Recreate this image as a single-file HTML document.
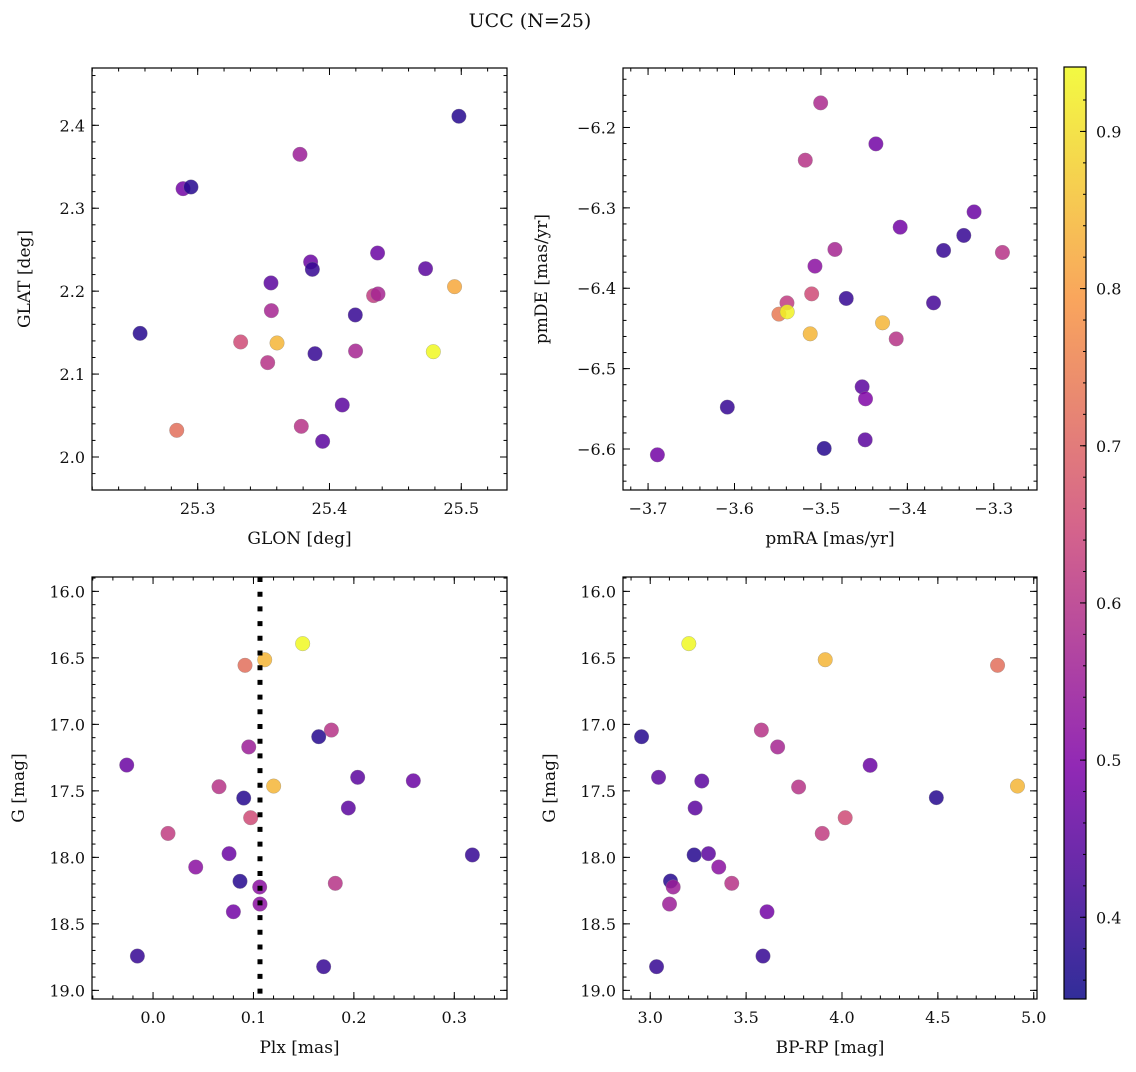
<!DOCTYPE html>
<html><head><meta charset="utf-8"><style>
body{margin:0;background:#fff;}
svg text{font-family:"DejaVu Serif","Liberation Serif",serif;fill:#111;}
</style></head><body>
<svg id="fig" width="1136" height="1067" xmlns="http://www.w3.org/2000/svg">
<text x="530" y="27" font-size="19" text-anchor="middle">UCC (N=25)</text>
</svg>
<script>
// ---- data ----
const glon = [25.4982,25.3776,25.2889,25.2949,25.4365,25.3857,25.3870,25.4729,25.3556,25.4949,25.4335,25.4368,25.3559,25.4196,25.2563,25.3326,25.3602,25.3890,25.4198,25.4788,25.3531,25.4097,25.3786,25.3948,25.2841];
const glat = [2.4109,2.3650,2.3236,2.3256,2.2460,2.2352,2.2263,2.2271,2.2099,2.2054,2.1946,2.1966,2.1765,2.1713,2.1491,2.1387,2.1375,2.1246,2.1278,2.1270,2.1138,2.0627,2.0370,2.0189,2.0322];
const cTL  = [0.38,0.55,0.48,0.38,0.47,0.47,0.40,0.45,0.45,0.82,0.62,0.57,0.57,0.40,0.38,0.65,0.84,0.40,0.57,0.94,0.60,0.45,0.60,0.45,0.72];
const pmra = [-3.5003,-3.4364,-3.5181,-3.3228,-3.4083,-3.3347,-3.3581,-3.2900,-3.4838,-3.5069,-3.5107,-3.4707,-3.5393,-3.5486,-3.5390,-3.4287,-3.3697,-3.5124,-3.4129,-3.4523,-3.4484,-3.4488,-3.4962,-3.6083,-3.6892];
const pmde = [-6.1694,-6.2204,-6.2407,-6.3050,-6.3240,-6.3343,-6.3530,-6.3555,-6.3517,-6.3725,-6.4070,-6.4127,-6.4182,-6.4322,-6.4294,-6.4430,-6.4182,-6.4567,-6.4630,-6.5226,-6.5376,-6.5886,-6.5993,-6.5479,-6.6072];
const cTR  = [0.58,0.48,0.60,0.47,0.48,0.40,0.40,0.60,0.57,0.52,0.65,0.40,0.62,0.74,0.93,0.84,0.42,0.84,0.60,0.45,0.50,0.45,0.38,0.40,0.48];
const plx  = [0.1490,0.1112,0.0916,0.1776,0.1650,0.0953,-0.0262,0.2038,0.2592,0.0657,0.1201,0.0903,0.1945,0.0972,0.0149,0.0757,0.3180,0.0425,0.0866,0.1062,0.1815,0.1065,0.0800,-0.0156,0.1699];
const gBL  = [16.393,16.514,16.556,17.043,17.093,17.170,17.306,17.398,17.424,17.469,17.464,17.554,17.629,17.702,17.820,17.972,17.982,18.073,18.180,18.223,18.195,18.351,18.409,18.742,18.822];
const cBL  = [0.94,0.84,0.72,0.60,0.38,0.55,0.47,0.45,0.47,0.60,0.84,0.38,0.45,0.65,0.62,0.47,0.40,0.52,0.38,0.52,0.60,0.52,0.48,0.40,0.40];
const bprp = [3.2013,3.9126,4.8113,2.9549,3.5795,3.6645,4.1468,3.0434,3.2689,3.7738,4.4920,4.9153,3.2342,4.0167,3.8970,3.2290,3.3036,3.3574,3.4251,3.1058,3.1197,3.1006,3.6090,3.5881,3.0330];
const gBR  = [16.393,16.514,16.556,17.093,17.043,17.170,17.308,17.398,17.426,17.471,17.551,17.464,17.629,17.702,17.820,17.982,17.972,18.073,18.195,18.178,18.223,18.351,18.409,18.742,18.822];
const cBR  = [0.94,0.84,0.72,0.38,0.60,0.57,0.47,0.45,0.45,0.60,0.38,0.84,0.45,0.65,0.62,0.38,0.45,0.52,0.60,0.38,0.55,0.55,0.48,0.40,0.40];
const plxLine = 0.1065;
const cbTicks = [0.4,0.5,0.6,0.7,0.8,0.9];
const VMIN=0.348, VMAX=0.941;

const svg=document.getElementById('fig');
const NS='http://www.w3.org/2000/svg';
function mk(tag,attrs,parent){const e=document.createElementNS(NS,tag);for(const k in attrs)e.setAttribute(k,attrs[k]);(parent||svg).appendChild(e);return e;}
const stops=[[0,[13,8,135]],[0.25,[126,3,168]],[0.5,[204,71,120]],[0.75,[248,149,64]],[1,[240,249,33]]];
function plasma(t){t=Math.max(0,Math.min(1,t));for(let i=1;i<stops.length;i++){if(t<=stops[i][0]){const a=stops[i-1],b=stops[i];const f=(t-a[0])/(b[0]-a[0]);const c=a[1].map((v,j)=>Math.round(v+(b[1][j]-v)*f));return `rgb(${c})`;}}return 'rgb(240,249,33)';}
function cmap(v){return plasma((v-VMIN)/(VMAX-VMIN));}
function fmt(v,d){let s=v.toFixed(d);if(s.startsWith('-'))s='\u2212'+s.slice(1);return s;}

function panel(name,L,T,R,B,xr,yr,xmaj,xmin,ymaj,ymin,xd,yd,xlabel,ylabel,yoff,invY,xs,ys,cs){
  const g=mk('g',{});
  
  
  const X=v=>L+(v-xr[0])/(xr[1]-xr[0])*(R-L);
  const Y=v=>invY? T+(v-yr[0])/(yr[1]-yr[0])*(B-T) : B-(v-yr[0])/(yr[1]-yr[0])*(B-T);
  const tk=(a0,a1,step)=>{const s=Math.ceil(a0/step-1e-9);const e=Math.floor(a1/step+1e-9);const out=[];for(let i=s;i<=e;i++)out.push(+(i*step).toFixed(6));return out;};
  for(const v of tk(xr[0],xr[1],xmin)){const x=X(v);mk('line',{x1:x,y1:B,x2:x,y2:B-3.5,stroke:'#000','stroke-width':1},g);mk('line',{x1:x,y1:T,x2:x,y2:T+3.5,stroke:'#000','stroke-width':1},g);}
  for(const v of tk(xr[0],xr[1],xmaj)){const x=X(v);mk('line',{x1:x,y1:B,x2:x,y2:B-7,stroke:'#000','stroke-width':1},g);mk('line',{x1:x,y1:T,x2:x,y2:T+7,stroke:'#000','stroke-width':1},g);
    const t=mk('text',{x:x,y:B+24,'font-size':16,'text-anchor':'middle'},g);t.textContent=fmt(v,xd);}
  const ylo=Math.min(yr[0],yr[1]),yhi=Math.max(yr[0],yr[1]);
  for(const v of tk(ylo,yhi,ymin)){const y=Y(v);mk('line',{x1:L,y1:y,x2:L+3.5,y2:y,stroke:'#000','stroke-width':1},g);mk('line',{x1:R,y1:y,x2:R-3.5,y2:y,stroke:'#000','stroke-width':1},g);}
  for(const v of tk(ylo,yhi,ymaj)){const y=Y(v);mk('line',{x1:L,y1:y,x2:L+7,y2:y,stroke:'#000','stroke-width':1},g);mk('line',{x1:R,y1:y,x2:R-7,y2:y,stroke:'#000','stroke-width':1},g);
    const t=mk('text',{x:L-7,y:y+6,'font-size':16,'text-anchor':'end'},g);t.textContent=fmt(v,yd);}
  for(let i=0;i<xs.length;i++){const c=mk('circle',{cx:X(xs[i]),cy:Y(ys[i]),r:7.3,fill:cmap(cs[i]),'fill-opacity':0.85,stroke:'#888','stroke-width':0.5,'stroke-opacity':0.6},g);
    
    }
  mk('rect',{x:L,y:T,width:R-L,height:B-T,fill:'none',stroke:'#000','stroke-width':1.2},g);
  const xl=mk('text',{x:(L+R)/2,y:B+54,'font-size':17,'text-anchor':'middle'},g);xl.textContent=xlabel;
  
  const yx=L-yoff,yy=(T+B)/2;
  const yl=mk('text',{x:yx,y:yy,'font-size':17,'text-anchor':'middle',transform:`rotate(-90 ${yx} ${yy})`},g);yl.textContent=ylabel;
  
  return {X,Y,g};
}
panel('glon-glat-panel',92,68,507,490,[25.2198,25.5347],[1.9602,2.4691],0.1,0.02,0.1,0.02,1,1,'GLON [deg]','GLAT [deg]',62,false,glon,glat,cTL);
panel('pm-panel',623,68,1037,490,[-3.729,-3.250],[-6.651,-6.126],0.1,0.02,0.1,0.02,1,1,'pmRA [mas/yr]','pmDE [mas/yr]',76,false,pmra,pmde,cTR);
const bl=panel('plx-g-panel',92,577,507,999,[-0.0608,0.3525],[15.892,19.065],0.1,0.02,0.5,0.1,1,1,'Plx [mas]','G [mag]',68,true,plx,gBL,cBL);
const lx=bl.X(plxLine);
const vl=mk('line',{x1:lx,y1:577,x2:lx,y2:999,stroke:'#000','stroke-width':5,'stroke-dasharray':'5 9.7'},bl.g);


panel('cmd-panel',623,577,1037,999,[2.858,5.017],[15.892,19.065],0.5,0.1,0.5,0.1,1,1,'BP-RP [mag]','G [mag]',68,true,bprp,gBR,cBR);

// colorbar
const cb=mk('g',{});


const defs=mk('defs',{},cb);
const lg=mk('linearGradient',{id:'cbg',x1:0,y1:1,x2:0,y2:0},defs);
for(let i=0;i<=20;i++){mk('stop',{offset:i/20,'stop-color':plasma(i/20),'stop-opacity':0.85},lg);}
const CL=1064,CR=1086,CT=67,CB=999;
mk('rect',{x:CL,y:CT,width:CR-CL,height:CB-CT,fill:'url(#cbg)'},cb);
const CY=v=>CB-(v-VMIN)/(VMAX-VMIN)*(CB-CT);
for(let v=0.36;v<=0.94;v+=0.02){const y=CY(v);mk('line',{x1:CR,y1:y,x2:CR-3,y2:y,stroke:'#000','stroke-width':1},cb);}
for(const v of cbTicks){const y=CY(v);mk('line',{x1:CR,y1:y,x2:CR-6,y2:y,stroke:'#000','stroke-width':1},cb);
  const t=mk('text',{x:CR+10,y:y+6,'font-size':16},cb);t.textContent=v.toFixed(1);}
mk('rect',{x:CL,y:CT,width:CR-CL,height:CB-CT,fill:'none',stroke:'#000','stroke-width':1.2},cb);
</script>
</body></html>
